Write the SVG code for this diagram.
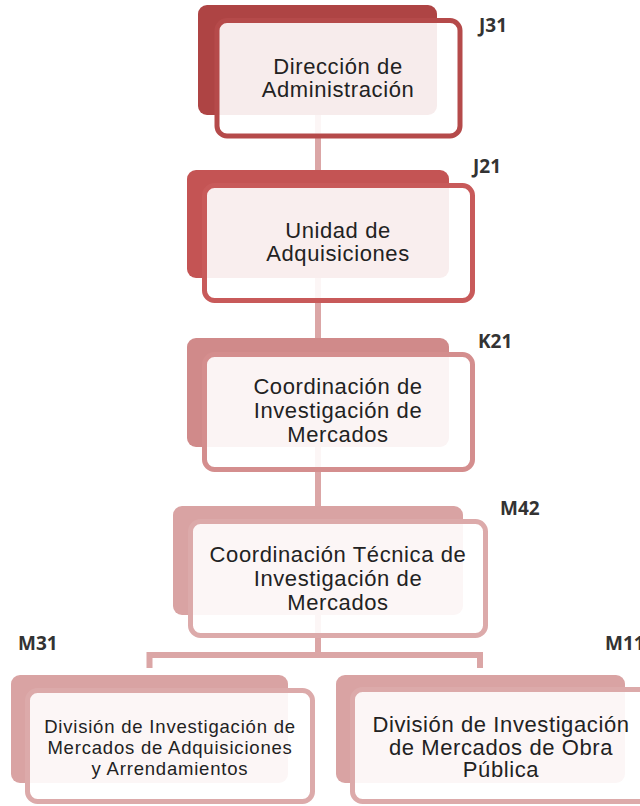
<svg xmlns="http://www.w3.org/2000/svg" width="640" height="806" viewBox="0 0 640 806">
<style>
.conn{stroke:#dba6a6;stroke-width:6;fill:none}
.front{fill:#ffffff;fill-opacity:0.9;stroke-width:5}
.t{font-family:"Liberation Sans",Arial,sans-serif;font-size:22px;fill:#222;text-anchor:middle;letter-spacing:0.6px}
.ts{font-family:"Liberation Sans",Arial,sans-serif;font-size:18.5px;fill:#222;text-anchor:middle;letter-spacing:0.8px}
.code{font-family:"Open Sans","DejaVu Sans",sans-serif;font-weight:bold;font-size:19px;fill:#333}
</style>
<rect width="640" height="806" fill="#ffffff"/>
<g id="connectors">
<line class="conn" x1="318" y1="110" x2="318" y2="175"/>
<line class="conn" x1="318" y1="275" x2="318" y2="340"/>
<line class="conn" x1="318" y1="445" x2="318" y2="510"/>
<line class="conn" x1="318" y1="612" x2="318" y2="655"/>
<polyline class="conn" points="149.5,668 149.5,655 480,655 480,668"/>
</g>
<g id="node-j31">
<rect x="198" y="5" width="239" height="110" rx="9" fill="#ae4444"/>
<rect class="front" x="217" y="20.5" width="243" height="115.5" rx="10" stroke="#b54a4a"/>
<text class="t" x="338" y="74">Dirección de</text>
<text class="t" x="338" y="97">Administración</text>
<text class="code" x="479" y="32">J31</text>
</g>
<g id="node-j21">
<rect x="187" y="170" width="262" height="108" rx="9" fill="#c45454"/>
<rect class="front" x="204.5" y="185.5" width="268" height="115" rx="10" stroke="#c85a5a"/>
<text class="t" x="338" y="238">Unidad de</text>
<text class="t" x="338" y="261">Adquisiciones</text>
<text class="code" x="473" y="173">J21</text>
</g>
<g id="node-k21">
<rect x="187" y="338" width="262" height="109" rx="9" fill="#d08a8a"/>
<rect class="front" x="204.5" y="354.5" width="268" height="115" rx="10" stroke="#d48e8e"/>
<text class="t" x="338" y="394">Coordinación de</text>
<text class="t" x="338" y="418">Investigación de</text>
<text class="t" x="338" y="442">Mercados</text>
<text class="code" x="478" y="348">K21</text>
</g>
<g id="node-m42">
<rect x="173" y="506" width="290" height="109" rx="9" fill="#d9a3a3"/>
<rect class="front" x="190.5" y="521.5" width="295" height="114" rx="10" stroke="#dcaaaa"/>
<text class="t" x="338" y="562">Coordinación Técnica de</text>
<text class="t" x="338" y="586">Investigación de</text>
<text class="t" x="338" y="610">Mercados</text>
<text class="code" x="500" y="515">M42</text>
</g>
<g id="node-m31">
<rect x="11" y="675" width="277" height="108" rx="9" fill="#d9a3a3"/>
<rect class="front" x="27.5" y="690.5" width="285" height="111" rx="10" stroke="#dcaaaa"/>
<text class="ts" x="170" y="733">División de Investigación de</text>
<text class="ts" x="170" y="754">Mercados de Adquisiciones</text>
<text class="ts" x="170" y="775">y Arrendamientos</text>
<text class="code" x="18" y="650">M31</text>
</g>
<g id="node-m11">
<rect x="336" y="675" width="289" height="108" rx="9" fill="#d9a3a3"/>
<rect class="front" x="352.5" y="689.5" width="300" height="112" rx="10" stroke="#dcaaaa"/>
<text class="t" x="501" y="732">División de Investigación</text>
<text class="t" x="501" y="755">de Mercados de Obra</text>
<text class="t" x="501" y="777">Pública</text>
<text class="code" x="605" y="650">M11</text>
</g>
</svg>
